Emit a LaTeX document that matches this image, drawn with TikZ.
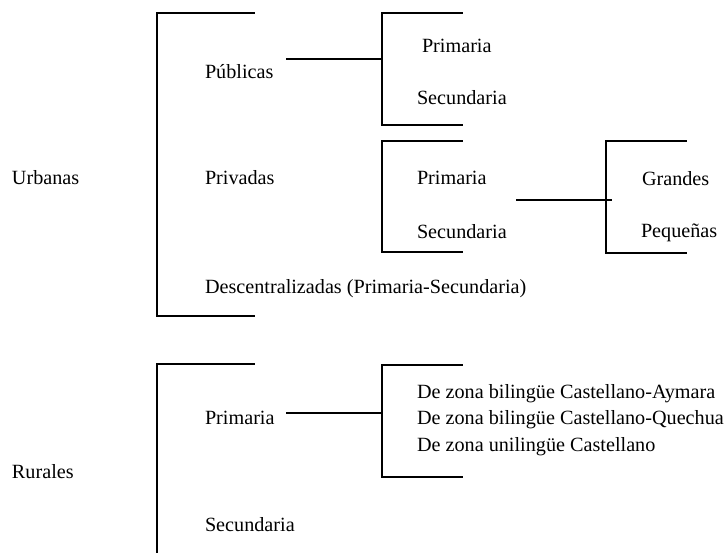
\documentclass[tikz,border=0pt]{standalone}
\usepackage{fontspec}
\setmainfont{Liberation Serif}
\begin{document}
\begin{tikzpicture}[x=1pt,y=-1pt,
  lbl/.style={anchor=base west,inner sep=0pt,outer sep=0pt,font=\fontsize{20.2}{24}\selectfont},
  br/.style={line width=1.7pt,line cap=rect},
  ln/.style={line width=1.7pt}]
\useasboundingbox (0,0) rectangle (728,552);
% labels
\node[lbl] (urb) at (12,184) {Urbanas};
\node[lbl] (pub) at (205,78) {Públicas};
\node[lbl] (priv) at (205,184) {Privadas};
\node[lbl] (desc) at (205,293) {Descentralizadas (Primaria-Secundaria)};
\node[lbl] (p1) at (422,52) {Primaria};
\node[lbl] (s1) at (417,104) {Secundaria};
\node[lbl] (p2) at (417,184) {Primaria};
\node[lbl] (s2) at (417,238) {Secundaria};
\node[lbl] (gr) at (642,185) {Grandes};
\node[lbl] (pq) at (641,237) {Pequeñas};
\node[lbl] (rur) at (12,478) {Rurales};
\node[lbl] (rp) at (205,424) {Primaria};
\node[lbl] (rs) at (205,531) {Secundaria};
\node[lbl] (z1) at (417,398) {De zona bilingüe Castellano-Aymara};
\node[lbl] (z2) at (417,424) {De zona bilingüe Castellano-Quechua};
\node[lbl] (z3) at (417,451) {De zona unilingüe Castellano};
% bracket coordinates
\coordinate (u1) at (254,13); \coordinate (u2) at (157,13);
\coordinate (u3) at (157,316); \coordinate (u4) at (254,316);
\coordinate (a1) at (462,13); \coordinate (a2) at (382,13);
\coordinate (a3) at (382,125); \coordinate (a4) at (462,125);
\coordinate (b1) at (462,141); \coordinate (b2) at (382,141);
\coordinate (b3) at (382,252); \coordinate (b4) at (462,252);
\coordinate (c1) at (686,141); \coordinate (c2) at (606,141);
\coordinate (c3) at (606,253); \coordinate (c4) at (686,253);
\coordinate (r1) at (254,364); \coordinate (r2) at (157,364);
\coordinate (r3) at (157,556);
\coordinate (d1) at (462,365); \coordinate (d2) at (382,365);
\coordinate (d3) at (382,477); \coordinate (d4) at (462,477);
% connector ends
\coordinate (pubS) at (286,59); \coordinate (pubE) at (382,59);
\coordinate (privS) at (516,200); \coordinate (privE) at (612,200);
\coordinate (rpS) at (286,413); \coordinate (rpE) at (382,413);
% brackets
\draw[br] (u1) -- (u2) -- (u3) -- (u4);
\draw[br] (a1) -- (a2) -- (a3) -- (a4);
\draw[br] (b1) -- (b2) -- (b3) -- (b4);
\draw[br] (c1) -- (c2) -- (c3) -- (c4);
\draw[br] (r1) -- (r2) -- (r3);
\draw[br] (d1) -- (d2) -- (d3) -- (d4);
% connectors
\draw[ln] (pubS) -- (pubE);
\draw[ln] (privS) -- (privE);
\draw[ln] (rpS) -- (rpE);
\end{tikzpicture}
\end{document}
